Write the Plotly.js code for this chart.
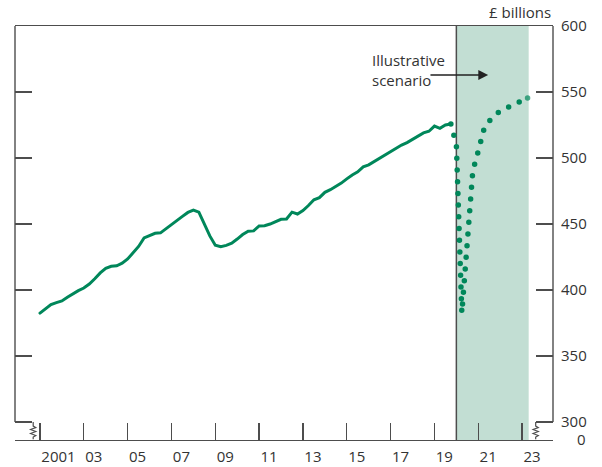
<!DOCTYPE html>
<html><head><meta charset="utf-8">
<script src="https://cdn.plot.ly/plotly-3.0.1.min.js"></script>
<style>
html,body{margin:0;padding:0;background:#fff;}
#chart{width:602px;height:467px;}
.scatterlayer .js-line{stroke-linecap:round;}
</style></head><body><div id="chart"></div>
<script>
// ---- data ----
const historyStart = 2001.0;            // first quarter (plotted at quarter start)
const historyValues = [
  382.5,385.5,389,390.5, 391.7,394.5,397.3,399.5, 401.5,404.5,408.5,413, 416.5,418,418.4,420.3,
  423.5,428,433,439.5, 441.5,443,443.3,446.5, 450,452.5,455.8,458.8, 460.6,459,450,441,
  434,432.8,433.8,435.5, 438.6,442,444.6,444.8, 448.5,448.7,450,451.8, 453.6,453.8,459,457.6,
  460.2,464,468.4,470, 474,476,478.2,481, 484.2,487.2,489.5,493.3, 494.8,497.3,499.7,502.3,
  505,507.8,509.8,511.7, 514,516.8,519,520.3, 524.2,522.5,525,525.8
];
const scenarioStart = 2019.75;
const scenarioValues = [525.8,510,382.6,440.2,490.2,505.3,521.2,528,532.6,535.6,537.5,539.4,541.7,543.9,545.5];
const xTickVals = [2001,2003,2005,2007,2009,2011,2013,2015,2017,2019,2021,2023];
const xTickText = ["2001","03","05","07","09","11","13","15","17","19","21","23"];
const yTickVals = [300,350,400,450,500,550,600];
const yTickText = ["300","350","400","450","500","550","600"];
const scenarioPeriod = [2020.0, 2023.3];

// ---- geometry ----
const X_RANGE = [1999.86, 2024.41];
const Y_BOTTOM = 286.4;
const Y_RANGE = [Y_BOTTOM, 600];
const PX_PER_YEAR = 538/(X_RANGE[1]-X_RANGE[0]);
const PX_PER_UNIT = 414/(Y_RANGE[1]-Y_RANGE[0]);

const q = (start, n) => Array.from({length:n}, (_, i) => start + i*0.25);

const green = '#00875a';
const frame = '#4d4d4d';
const txt = '#333333';

const scenX = q(scenarioStart, scenarioValues.length);
const traces = [
  {x: q(historyStart, historyValues.length), y: historyValues, type:'scatter', mode:'lines',
   line:{color:green, width:3}, hoverinfo:'skip'},
  {x: scenX, y: scenarioValues, type:'scatter', mode:'lines+markers', yaxis:'y2',
   line:{color:green, width:5.5, dash:'0px,11.7px'},
   marker:{color:green, size:scenX.map((_, i) => i === scenX.length-1 ? 5.5 : 0), line:{width:0}},
   hoverinfo:'skip'}
];

function squiggle(xYear){
  const w = 2.6/PX_PER_YEAR;
  const yv = p => 300 - p/PX_PER_UNIT;
  const pts = [[0,0],[0,4],[w,5.5],[-w,7.5],[w,9.5],[-w,11.5],[w,13.5],[0,15],[0,17.3]];
  return 'M' + pts.map(p => (xYear+p[0]).toFixed(4) + ',' + yv(p[1]).toFixed(3)).join(' L');
}

const shapes = [
  {type:'rect', xref:'x', yref:'paper', x0:scenarioPeriod[0], x1:scenarioPeriod[1], y0:0, y1:1,
   fillcolor:'#c2ded3', line:{width:0}, layer:'below'},
  {type:'line', xref:'x', yref:'paper', x0:scenarioPeriod[0], x1:scenarioPeriod[0], y0:0, y1:1,
   line:{color:frame, width:1.5}, layer:'below'},
  {type:'line', xref:'paper', yref:'y', x0:0, x1:0, y0:300, y1:600, line:{color:frame, width:1.4}},
  {type:'line', xref:'paper', yref:'y', x0:1, x1:1, y0:300, y1:600, line:{color:frame, width:1.4}},
  {type:'path', xref:'x', yref:'y', path:squiggle(2000.69), line:{color:frame, width:1.2}},
  {type:'path', xref:'x', yref:'y', path:squiggle(2023.62), line:{color:frame, width:1.2}}
];

const annotations = [
  {text:'£ billions', xref:'paper', yref:'paper', x:1, y:1, xanchor:'right', yanchor:'bottom',
   yshift:2, showarrow:false, font:{size:15, color:txt}},
  {text:'Illustrative<br>scenario', xref:'x', yref:'y', x:2016.05, y:566.3, xanchor:'left',
   yanchor:'middle', align:'left', showarrow:false, font:{size:15, color:txt}},
  {text:'', xref:'x', yref:'y', x:2021.45, y:562.9, axref:'x', ayref:'y', ax:2018.75, ay:562.9,
   showarrow:true, arrowhead:2, arrowsize:1.4, arrowwidth:1.4, arrowcolor:'#222', standoff:0, startstandoff:0}
];

const layout = {
  width:602, height:467,
  margin:{l:15, r:49, t:26, b:27, pad:0},
  paper_bgcolor:'#fff', plot_bgcolor:'rgba(0,0,0,0)',
  showlegend:false,
  font:{family:'"Open Sans", "Noto Sans", sans-serif', size:15, color:txt},
  xaxis:{range:X_RANGE, tickvals:xTickVals, ticktext:xTickText, ticks:'inside', ticklen:17,
    tickwidth:1.3, tickcolor:frame, showline:true, linecolor:frame, linewidth:1.4, mirror:true,
    showgrid:false, zeroline:false, ticklabelposition:'outside right', ticklabelstandoff:3,
    tickfont:{size:15, color:txt}, fixedrange:true},
  yaxis:{range:Y_RANGE, side:'right', tickvals:yTickVals, ticktext:yTickText,
    ticks:'inside', ticklen:17, tickwidth:1.3, tickcolor:frame, showline:false, mirror:'ticks',
    ticklabelstandoff:7,
    showgrid:false, zeroline:false, tickfont:{size:15, color:txt}, fixedrange:true},
  yaxis2:{range:Y_RANGE, overlaying:'y', side:'right', tickvals:[Y_BOTTOM], ticktext:['0'],
    ticks:'', showline:false, showgrid:false, zeroline:false, ticklabelstandoff:23,
    tickfont:{size:15, color:txt}, fixedrange:true},
  shapes:shapes, annotations:annotations
};

Plotly.newPlot('chart', traces, layout, {displayModeBar:false, staticPlot:true});
</script></body></html>
